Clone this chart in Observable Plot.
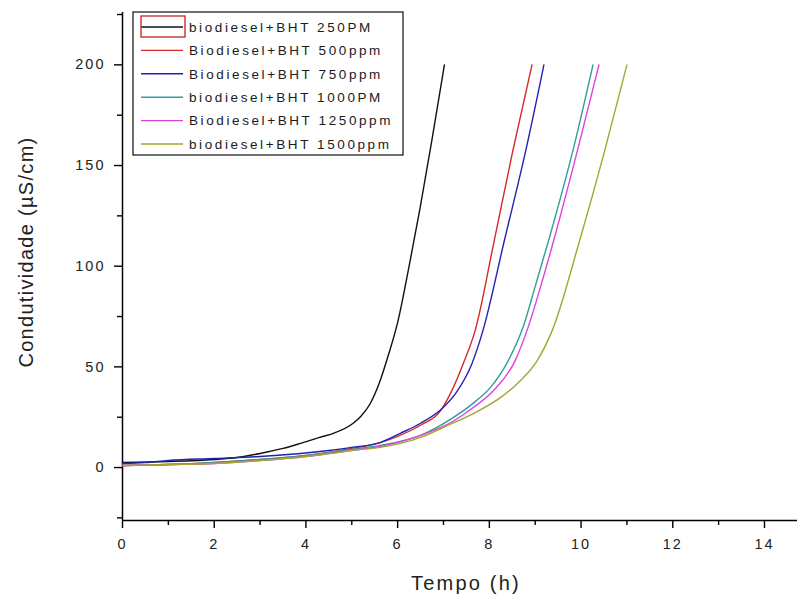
<!DOCTYPE html>
<html>
<head>
<meta charset="utf-8">
<script src="https://cdn.jsdelivr.net/npm/d3@7"></script>
<script src="https://cdn.jsdelivr.net/npm/@observablehq/plot@0.6"></script>
<style>
  html, body { margin: 0; padding: 0; background: #fff; }
  #chart svg text { letter-spacing: 2px; }
</style>
</head>
<body>
<div id="chart"></div>
<script>
// Series labels and line colours (legend order = drawing order)
const seriesNames = [
  "biodiesel+BHT 250PM",
  "Biodiesel+BHT 500ppm",
  "Biodiesel+BHT 750ppm",
  "biodiesel+BHT 1000PM",
  "Biodiesel+BHT 1250ppm",
  "biodiesel+BHT 1500ppm"
];
const seriesColors = ["#111111", "#d42a2a", "#2323b0", "#2f9e9e", "#e040e0", "#a5a532"];

// Time (h) and conductivity (µS/cm) for each BHT concentration
const time250 = [0, 1, 2, 2.5, 3, 3.5, 3.88, 4.3, 4.6, 5.03, 5.2, 5.4, 5.6, 5.8, 6.01, 6.25, 6.49, 6.75, 7.02];
const cond250 = [2.5, 3, 4, 5, 7, 9.5, 12, 15, 17, 22, 25.5, 31.7, 42, 56, 73, 100, 129, 163, 200];

const time500 = [0, 1, 2, 3, 4, 5, 5.62, 6, 6.5, 6.93, 7.15, 7.43, 7.69, 8.1, 8.5, 8.93];
const cond500 = [1, 1.5, 2.5, 4, 6, 9.5, 12.4, 15.5, 21, 28, 36.7, 51.6, 68, 112, 156, 200];

const time750 = [0, 0.5, 1, 2, 3, 3.88, 4.5, 5, 5.62, 6.06, 6.5, 7.0, 7.3, 7.62, 7.86, 8.32, 8.8, 9.19];
const cond750 = [2, 2.5, 3.5, 4.5, 5.5, 7, 8.5, 10, 12.4, 17, 22, 30, 38, 51.6, 68, 112, 158, 200];

const time1000 = [0, 1, 2, 3, 4, 5, 5.62, 6.5, 7.21, 7.65, 8.02, 8.41, 8.74, 9.0, 9.32, 9.85, 10.26];
const cond1000 = [1, 1.5, 2.5, 4, 6, 9, 11, 16, 24.8, 32, 39.7, 53, 70, 90, 115, 160, 200];

const time1250 = [0, 1, 2, 3, 4, 5, 5.62, 6.5, 7.21, 7.65, 8.08, 8.56, 8.85, 9.12, 9.43, 9.95, 10.39];
const cond1250 = [1, 1.5, 2, 3.5, 5.5, 8.5, 10.5, 16, 23, 29.8, 38, 53, 70, 90, 115, 160, 200];

const time1500 = [0, 1, 2, 3, 4, 5, 5.62, 6.5, 7.08, 7.65, 8.24, 8.67, 9.04, 9.37, 9.96, 10.5, 11.0];
const cond1500 = [1, 1.5, 2, 3.5, 5.5, 8.5, 10, 15, 20.8, 26.8, 34.7, 43, 53, 68, 112, 156, 200];

// Axis ranges and tick values
const xDomain = [0, 14.72];
const yDomain = [-26.3, 226];
const xMajorTicks = [0, 2, 4, 6, 8, 10, 12, 14];
const xMinorTicks = [1, 3, 5, 7, 9, 11, 13];
const yMajorTicks = [0, 50, 100, 150, 200];
const yMinorTicks = [-25, 25, 75, 125, 175, 225];
const xTitle = "Tempo (h)";
const yTitle = "Condutividade (µS/cm)";

// Long-format table for the line mark
const seriesTimes = [time250, time500, time750, time1000, time1250, time1500];
const seriesValues = [cond250, cond500, cond750, cond1000, cond1250, cond1500];
const rows = seriesNames.flatMap((name, i) =>
  seriesTimes[i].map((t, j) => ({series: name, t, v: seriesValues[i][j]}))
);

const font = "'Liberation Sans', Arial, Helvetica, sans-serif";
const W = 799, H = 598;
const M = {left: 122, right: 2, top: 12, bottom: 78};

const chart = Plot.plot({
  width: W,
  height: H,
  marginLeft: M.left,
  marginRight: M.right,
  marginTop: M.top,
  marginBottom: M.bottom,
  style: {fontFamily: font, fontSize: "14.5px", color: "#000", background: "#fff", overflow: "visible"},
  x: {domain: xDomain},
  y: {domain: yDomain},
  color: {domain: seriesNames, range: seriesColors},
  marks: [
    Plot.axisX(xMajorTicks, {tickSize: 8, tickPadding: 10, strokeWidth: 1.4, label: null, fill: "#222"}),
    Plot.axisX(xMinorTicks, {tickSize: 5, tickFormat: () => "", strokeWidth: 1.4, label: null}),
    Plot.axisY(yMajorTicks, {tickSize: 8, tickPadding: 9, strokeWidth: 1.4, label: null, fill: "#222"}),
    Plot.axisY(yMinorTicks, {tickSize: 5, tickFormat: () => "", strokeWidth: 1.4, label: null}),
    Plot.ruleX([xDomain[0]], {stroke: "#000", strokeWidth: 1.5}),
    Plot.ruleY([yDomain[0]], {stroke: "#000", strokeWidth: 1.5}),
    Plot.line(rows, {x: "t", y: "v", z: "series", stroke: "series", strokeWidth: 1.4, curve: "monotone-x"})
  ]
});

document.getElementById("chart").appendChild(chart);

// Axis titles and the framed legend inside the plot area
const svg = d3.select(chart);

svg.append("text")
  .attr("x", 466).attr("y", 590)
  .attr("text-anchor", "middle")
  .style("font-family", font).style("font-size", "20px").style("letter-spacing", "2.2px")
  .attr("fill", "#222")
  .text(xTitle);

svg.append("text")
  .attr("transform", "translate(33,252) rotate(-90)")
  .attr("text-anchor", "middle")
  .style("font-family", font).style("font-size", "20px").style("letter-spacing", "1.3px")
  .attr("fill", "#222")
  .text(yTitle);

const legend = svg.append("g").attr("text-anchor", "start");
legend.append("rect")
  .attr("x", 133).attr("y", 12).attr("width", 270).attr("height", 143)
  .attr("fill", "#fff").attr("stroke", "#222").attr("stroke-width", 1.3);

seriesNames.forEach((name, i) => {
  const yy = 27 + i * 23.4;
  legend.append("line")
    .attr("x1", 141).attr("x2", 183).attr("y1", yy).attr("y2", yy)
    .attr("stroke", seriesColors[i]).attr("stroke-width", 1.4);
  legend.append("text")
    .attr("x", 189).attr("y", yy).attr("dy", "0.36em")
    .attr("text-anchor", "start")
    .style("font-family", font).style("font-size", "13.5px").style("letter-spacing", "2.6px")
    .attr("fill", "#1a1a1a")
    .text(name);
});

// Selection outline around the first legend sample
legend.append("rect")
  .attr("x", 141).attr("y", 16).attr("width", 44).attr("height", 21)
  .attr("fill", "none").attr("stroke", "#c42020").attr("stroke-width", 1.3);
</script>
</body>
</html>
